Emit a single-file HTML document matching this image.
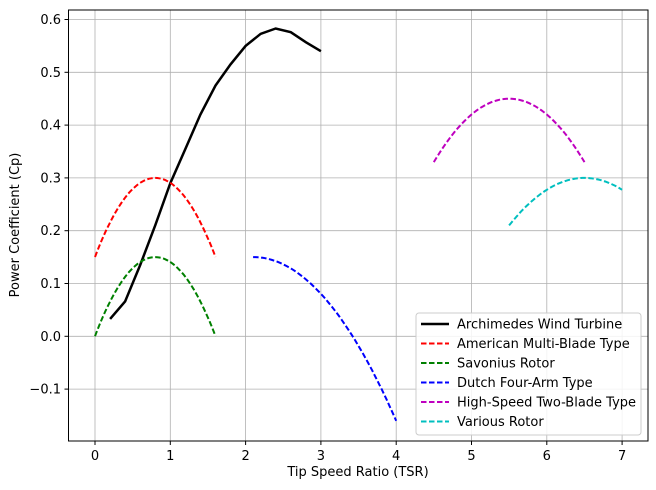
<!DOCTYPE html>
<html><head><meta charset="utf-8"><style>
html,body{margin:0;padding:0;background:#fff;}
svg{display:block;font-family:"DejaVu Sans","Liberation Sans",sans-serif;}
</style></head><body>
<svg id="s" width="656" height="490" viewBox="0 0 656 490" xmlns="http://www.w3.org/2000/svg">
<rect width="656" height="490" fill="#fff"/>
<g id="grid" stroke="#b0b0b0" stroke-width="0.8"></g>
<g id="ticks" font-size="13" fill="#000"></g>
<g id="series" fill="none" stroke-width="2"></g>
<rect x="68.5" y="10" width="579.5" height="431" fill="none" stroke="#000" stroke-width="1"/>
<text x="358" y="476" font-size="13" text-anchor="middle">Tip Speed Ratio (TSR)</text>
<text transform="translate(19,225) rotate(-90)" font-size="13" text-anchor="middle">Power Coefficient (Cp)</text>
<g id="legend"></g>
</svg>
<script>
var NS="http://www.w3.org/2000/svg";
function X(v){return 95+75.3*v;}
function Y(v){return 336.3-528*v;}
function el(p,t,a,txt){var e=document.createElementNS(NS,t);for(var k in a)e.setAttribute(k,a[k]);if(txt!==undefined)e.textContent=txt;document.getElementById(p).appendChild(e);}
for(var i=0;i<=7;i++){var x=X(i);el("grid","line",{x1:x,x2:x,y1:10,y2:441});
 el("ticks","line",{x1:x,x2:x,y1:441,y2:445,stroke:"#000"});
 el("ticks","text",{x:x,y:460,"text-anchor":"middle"},String(i));}
var yt=[-0.1,0,0.1,0.2,0.3,0.4,0.5,0.6];
yt.forEach(function(v){var y=Y(v);el("grid","line",{x1:68.5,x2:648,y1:y,y2:y});
 el("ticks","line",{x1:64.5,x2:68.5,y1:y,y2:y,stroke:"#000"});
 el("ticks","text",{x:61,y:y+4.5,"text-anchor":"end"},(v<0?"\u22120.1":v.toFixed(1)));});
function path(pts,col,dash,w){var d=pts.map(function(p,i){return (i?"L":"M")+X(p[0]).toFixed(1)+","+Y(p[1]).toFixed(1);}).join("");
 var a={d:d,stroke:col};if(w)a["stroke-width"]=w;if(dash)a["stroke-dasharray"]="5.5,2.5";el("series","path",a);}
function para(a,b,c,x0,k){var p=[];for(var i=0;i<=60;i++){var x=a+(b-a)*i/60;p.push([x,c-k*(x-x0)*(x-x0)]);}return p;}
var arch=[[0.2,0.033],[0.4,0.066],[0.6,0.135],[0.8,0.21],[1.0,0.29],[1.2,0.355],[1.4,0.42],[1.6,0.475],[1.8,0.515],[2.0,0.55],[2.2,0.573],[2.4,0.583],[2.6,0.576],[2.8,0.557],[3.0,0.54]];
path(arch,"#000",false,2.5);
path(para(0,1.6,0.3,0.8,0.234),"#ff0000",true);
path(para(0,1.6,0.15,0.8,0.234),"#008000",true);
path(para(2.1,4,0.15,2.1,0.0859),"#0000ff",true);
path(para(4.5,6.5,0.45,5.5,0.12),"#bf00bf",true);
path(para(5.5,7,0.3,6.5,0.09),"#00bfbf",true);
el("legend","rect",{x:416,y:313,width:225,height:122,rx:3,fill:"#fff","fill-opacity":0.85,stroke:"#ccc"});
var L=[["Archimedes Wind Turbine","#000",0],["American Multi-Blade Type","#ff0000",1],["Savonius Rotor","#008000",1],["Dutch Four-Arm Type","#0000ff",1],["High-Speed Two-Blade Type","#bf00bf",1],["Various Rotor","#00bfbf",1]];
L.forEach(function(l,i){var y=324+i*19.5;var a={x1:421,x2:449,y1:y,y2:y,stroke:l[1],"stroke-width":l[2]?2:2.5};if(l[2])a["stroke-dasharray"]="5.5,2.5";el("legend","line",a);
 el("legend","text",{x:457,y:y+4.5,"font-size":"13"},l[0]);});
</script>
</body></html>
